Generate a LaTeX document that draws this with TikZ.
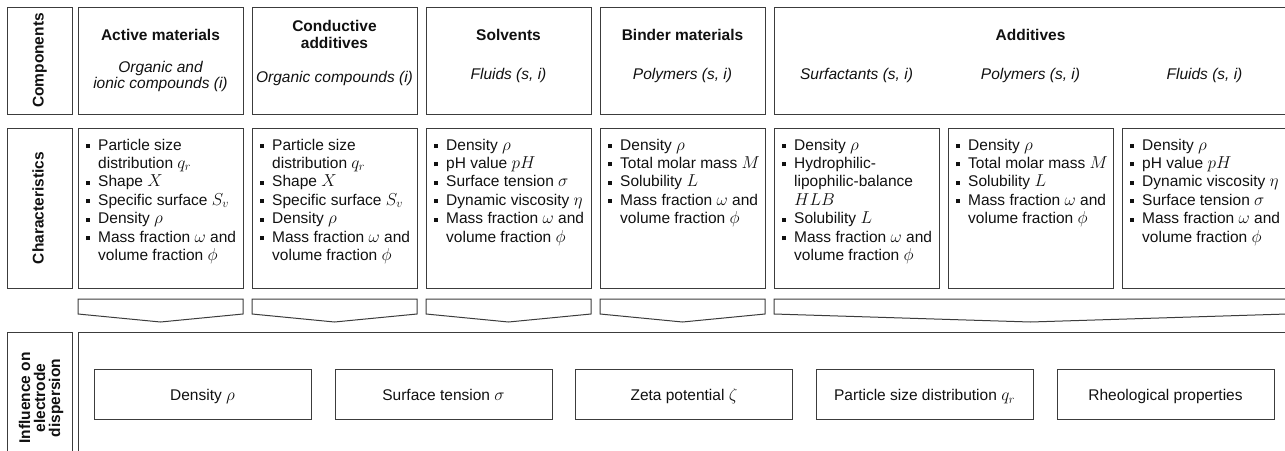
\documentclass[tikz,border=0pt]{standalone}
\usepackage{fontspec}
\setmainfont{Liberation Sans}
\usetikzlibrary{fit}
\definecolor{linec}{HTML}{3C3C3C}
\definecolor{txt}{HTML}{111111}
\newcommand\bul{\makebox[12pt][l]{\rule[2pt]{4pt}{4pt}}}
\newcommand\ind{\hspace*{12pt}}
\newcommand\mm[1]{{\fontsize{18}{18.4}\selectfont$#1$}}
\newcommand\mr[1]{{\fontsize{17}{18.4}\selectfont$#1$}}
\newcommand\charlist[1]{\begin{tabular}[t]{@{}l@{}}#1\end{tabular}}
\tikzset{
  cell/.style={draw=linec, line width=1pt, inner sep=0pt, outer sep=0pt},
  chev/.style={draw=linec, line width=1pt, line join=miter},
  ttl/.style={anchor=base, inner sep=0pt, font=\bfseries, text=txt},
  sub/.style={anchor=base, inner sep=0pt, font=\itshape, text=txt},
  side/.style={anchor=base, inner sep=0pt, font=\bfseries, rotate=90, text=txt},
  lst/.style={anchor=base west, inner sep=0pt, text=txt},
  infl/.style={anchor=base, inner sep=0pt, text=txt}
}
\newcommand\chevron[3]{\draw[chev] (#1,299) -- (#2,299) -- (#2,314) -- (#3,322) -- (#1,314) -- cycle;}
\begin{document}
\begin{tikzpicture}[x=1pt,y=-1pt]
\fontsize{15.5}{18.4}\selectfont
\useasboundingbox (0,0) rectangle (1285,450);
\clip (0,0) rectangle (1285,450);
\fill[white] (0,0) rectangle (1285,450);

% ---------- Row 1: Components ----------
\node[cell, fit={(7,7) (72,114)}] (compL) {};
\node[cell, fit={(78,7) (243,114)}] (am) {};
\node[cell, fit={(252,7) (417,114)}] (ca) {};
\node[cell, fit={(426,7) (591,114)}] (sv) {};
\node[cell, fit={(600,7) (765,114)}] (bm) {};
\node[cell, fit={(774,7) (1287,114)}] (ad) {};

\node[side] (compT) at (43.5,60.5) {Components};
\node[ttl] (amT) at (160.5,40.5) {Active materials};
\node[sub] (amS1) at (160.5,72) {Organic and};
\node[sub] (amS2) at (160.5,88.5) {ionic compounds (i)};
\node[ttl] (caT1) at (334.5,31.7) {Conductive};
\node[ttl] (caT2) at (334.5,48.3) {additives};
\node[sub] (caS) at (334.5,82) {Organic compounds (i)};
\node[ttl] (svT) at (508.5,40.5) {Solvents};
\node[sub] (svS) at (508.5,79.5) {Fluids (s, i)};
\node[ttl] (bmT) at (682.5,40.5) {Binder materials};
\node[sub] (bmS) at (682.5,79.5) {Polymers (s, i)};
\node[ttl] (adT) at (1030.5,40.5) {Additives};
\node[sub] (adS1) at (856.5,79.5) {Surfactants (s, i)};
\node[sub] (adS2) at (1030.5,79.5) {Polymers (s, i)};
\node[sub] (adS3) at (1204.5,79.5) {Fluids (s, i)};

% ---------- Row 2: Characteristics ----------
\node[cell, fit={(7,128) (72,288)}] (charL) {};
\node[cell, fit={(78,128) (243,288)}] (c1) {};
\node[cell, fit={(252,128) (417,288)}] (c2) {};
\node[cell, fit={(426,128) (591,288)}] (c3) {};
\node[cell, fit={(600,128) (765,288)}] (c4) {};
\node[cell, fit={(774,128) (939,288)}] (c5) {};
\node[cell, fit={(948,128) (1113,288)}] (c6) {};
\node[cell, fit={(1122,128) (1287,288)}] (c7) {};

\node[side] (charT) at (43.5,208) {Characteristics};

\node[lst] (l1) at (86,150) {\charlist{\bul Particle size\\ \ind distribution \mm{q_r}\\ \bul Shape \mm{X}\\ \bul Specific surface \mm{S_v}\\ \bul Density \mm{\rho}\\ \bul Mass fraction \mm{\omega} and\\ \ind volume fraction \mm{\phi}}};
\node[lst] (l2) at (260,150) {\charlist{\bul Particle size\\ \ind distribution \mm{q_r}\\ \bul Shape \mm{X}\\ \bul Specific surface \mm{S_v}\\ \bul Density \mm{\rho}\\ \bul Mass fraction \mm{\omega} and\\ \ind volume fraction \mm{\phi}}};
\node[lst] (l3) at (434,150) {\charlist{\bul Density \mm{\rho}\\ \bul pH value \mm{pH}\\ \bul Surface tension \mm{\sigma}\\ \bul Dynamic viscosity \mm{\eta}\\ \bul Mass fraction \mm{\omega} and\\ \ind volume fraction \mm{\phi}}};
\node[lst] (l4) at (608,150) {\charlist{\bul Density \mm{\rho}\\ \bul Total molar mass \mm{M}\\ \bul Solubility \mm{L}\\ \bul Mass fraction \mm{\omega} and\\ \ind volume fraction \mm{\phi}}};
\node[lst] (l5) at (782,150) {\charlist{\bul Density \mm{\rho}\\ \bul Hydrophilic-\\ \ind lipophilic-balance\\ \ind \mm{HLB}\\ \bul Solubility \mm{L}\\ \bul Mass fraction \mm{\omega} and\\ \ind volume fraction \mm{\phi}}};
\node[lst] (l6) at (956,150) {\charlist{\bul Density \mm{\rho}\\ \bul Total molar mass \mm{M}\\ \bul Solubility \mm{L}\\ \bul Mass fraction \mm{\omega} and\\ \ind volume fraction \mm{\phi}}};
\node[lst] (l7) at (1130,150) {\charlist{\bul Density \mm{\rho}\\ \bul pH value \mm{pH}\\ \bul Dynamic viscosity \mm{\eta}\\ \bul Surface tension \mm{\sigma}\\ \bul Mass fraction \mm{\omega} and\\ \ind volume fraction \mm{\phi}}};

% ---------- Row 3: chevrons ----------
\chevron{78}{243}{160.5}
\chevron{252}{417}{334.5}
\chevron{426}{591}{508.5}
\chevron{600}{765}{682.5}
\chevron{774}{1287}{1030.5}

% ---------- Row 4: Influence ----------
\node[cell, fit={(7,332) (72,470)}] (infL) {};
\node[cell, fit={(78,332) (1300,470)}] (inf) {};
\node[side] (infT1) at (30,398) {Influence on};
\node[side] (infT2) at (45,398) {electrode};
\node[side] (infT3) at (60,398) {dispersion};

\node[cell, fit={(94,369) (311,419)}] (p1) {};
\node[cell, fit={(335,369) (552,419)}] (p2) {};
\node[cell, fit={(575.5,369) (792.5,419)}] (p3) {};
\node[cell, fit={(816,369) (1033,419)}] (p4) {};
\node[cell, fit={(1057,369) (1274,419)}] (p5) {};
\node[infl] at (202.5,400.5) {Density \mr{\rho}};
\node[infl] at (443.5,400.5) {Surface tension \mr{\sigma}};
\node[infl] at (684,400.5) {Zeta potential \mr{\zeta}};
\node[infl] at (924.5,400.5) {Particle size distribution \mr{q_r}};
\node[infl] at (1165.5,400.5) {Rheological properties};
\end{tikzpicture}
\end{document}
